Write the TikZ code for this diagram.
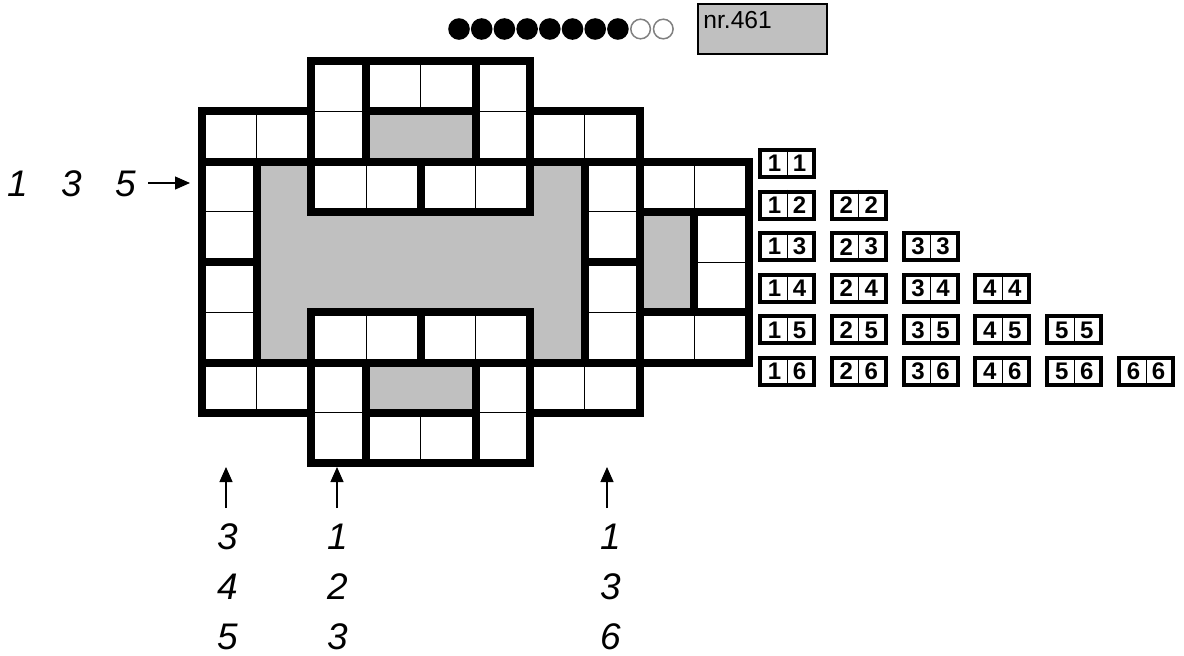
\documentclass[tikz,border=0pt]{standalone}
\usepackage{fontspec}
\setmainfont{Liberation Sans}
\usepackage{tikz}
\usetikzlibrary{arrows.meta, positioning, calc}
\definecolor{boxgray}{HTML}{C0C0C0}
\definecolor{ringgray}{HTML}{808080}
\tikzset{
  every node/.style={inner sep=0pt},
  wall/.style={line width=4pt, line join=miter},
  seam/.style={line width=0.5pt},
  clue/.style={font=\fontsize{18.5}{22}\selectfont\itshape},
  pointer/.style={line width=0.65pt, -{Triangle[length=7.5pt,width=6.5pt]}},
  tile/.style={draw, line width=2pt, minimum width=27pt, minimum height=13.5pt},
  pip/.style={font=\fontsize{12}{13}\selectfont\bfseries},
}

\begin{document}
\begin{tikzpicture}[x=0.5pt, y=-0.5pt]
  \useasboundingbox (0,0) rectangle (1184,655);

  % rating and number
  \foreach \k in {0,...,7}
    \fill (459+\k*22.7,29) circle[radius=10.8];
  \foreach \k in {8,9}
    \draw[ringgray, line width=0.75pt] (459+\k*22.7,29) circle[radius=9.8];
  \node[draw, fill=boxgray, line width=0.75pt, minimum width=64.5pt, minimum height=25pt, anchor=north west] (nr) at (697,3) {};
  \node[font=\fontsize{12.3}{14}\selectfont, anchor=base west] (nrtext) at ([xshift=3pt, yshift=-12.5pt]nr.north west) {nr.461};

  % board
  \begin{scope}[shift={(202,61)}, x=27.35pt, y=-25.125pt]
    \filldraw[fill=boxgray, wall] (3,1) rectangle (5,2) (3,6) rectangle (5,7) (8,3) rectangle (9,5)
      (1,2) -- (2,2) -- (2,3) -- (6,3) -- (6,2) -- (7,2) -- (7,6) -- (6,6) -- (6,5) -- (2,5) -- (2,6) -- (1,6) -- cycle;
    \foreach \c/\r in {3/0,0/1,6/1,2/2,4/2,8/2,2/5,4/5,8/5,0/6,6/6,3/7} {
      \draw[seam] (\c+1,\r) -- (\c+1,\r+1);
      \draw[wall] (\c,\r) rectangle (\c+2,\r+1);
    }
    \foreach \c/\r in {2/0,5/0,0/2,0/4,7/2,7/4,9/3,2/6,5/6} {
      \draw[seam] (\c,\r+1) -- (\c+1,\r+1);
      \draw[wall] (\c,\r) rectangle (\c+1,\r+2);
    }
  \end{scope}

  % set of stones
  \foreach \b in {1,...,6}
    \foreach \a in {1,...,\b} {
      \node[tile] (t\a\b) at ({787+(\a-1)*71.8},{163.5+(\b-1)*41.6}) {};
      \draw[seam] (t\a\b.north) -- (t\a\b.south);
      \node[pip] at ([xshift=-6.25pt]t\a\b.center) {\a};
      \node[pip] at ([xshift=6.25pt]t\a\b.center) {\b};
    }

  % clues
  \foreach \n [count=\k] in {1,3,5}
    \node[clue] (row\n) at ({18+(\k-1)*54},184) {\n};
  \coordinate (rowhead) at (190,183);
  \draw[pointer] ([xshift=5.85pt, yshift=0.5pt]row5.east) -- (rowhead);

  \foreach \ax/\tx/\p/\q/\s in {226/228/3/4/5, 337/338/1/2/3, 607/611/1/3/6} {
    \node[clue] (top\ax) at (\tx,537) {\p};
    \node[clue] (mid\ax) at (\tx,587) {\q};
    \node[clue] (low\ax) at (\tx,636.5) {\s};
    \coordinate (foot\ax) at (\ax,508);
    \coordinate (head\ax) at (\ax,467);
    \draw[pointer] (foot\ax) -- (head\ax);
  }
\end{tikzpicture}
\end{document}
